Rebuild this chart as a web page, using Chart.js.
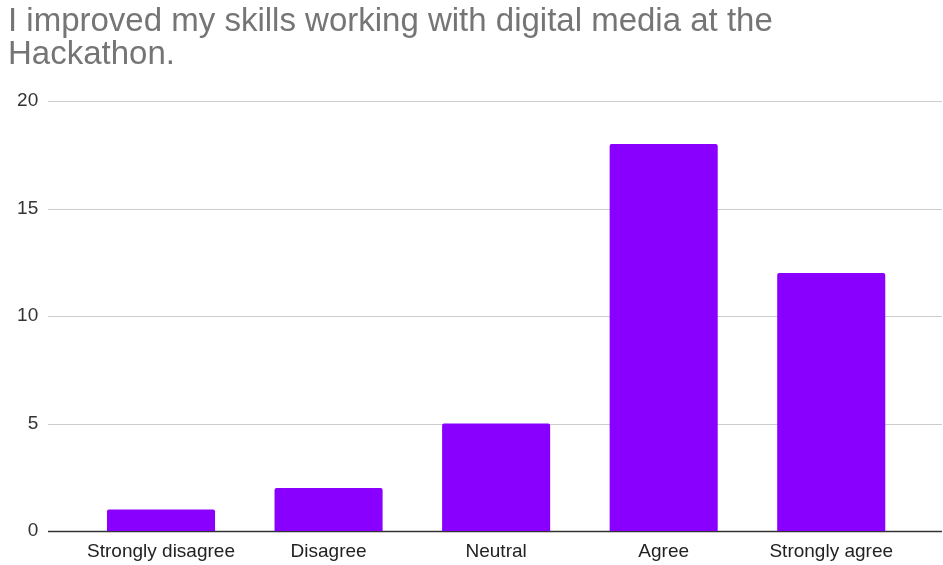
<!DOCTYPE html>
<html>
<head>
<meta charset="utf-8">
<script src="https://cdn.jsdelivr.net/npm/chart.js@4.4.1/dist/chart.umd.min.js"></script>
<style>
    html, body { margin: 0; padding: 0; background: #fff; }
    #wrap { width: 943px; height: 565px; }
</style>
</head>
<body>
<div id="wrap"><canvas id="barChart"></canvas></div>
<script>
// Survey answers
const answers = ['Strongly disagree', 'Disagree', 'Neutral', 'Agree', 'Strongly agree'];
const counts = [1, 2, 5, 18, 12];
const yTicks = [0, 5, 10, 15, 20];
const titleLines = ['I improved my skills working with digital media at the', 'Hackathon.'];

// horizontal grid lines run wider than the bar area, so draw them by hand
const gridLines = {
    id: 'gridLines',
    beforeDatasetsDraw(chart) {
        const c = chart.ctx;
        const y = chart.scales.y;
        c.save();
        yTicks.forEach(v => {
            const py = Math.round(y.getPixelForValue(v)) + 0.5;
            c.beginPath();
            c.strokeStyle = v === 0 ? '#333333' : '#cccccc';
            c.lineWidth = v === 0 ? 1.5 : 1;
            c.moveTo(48, py);
            c.lineTo(942, py);
            c.stroke();
        });
        c.restore();
    }
};

const ctx = document.getElementById('barChart').getContext('2d');
new Chart(ctx, {
    type: 'bar',
    data: {
        labels: answers,
        datasets: [{
            data: counts,
            backgroundColor: '#8a00ff',
            borderRadius: { topLeft: 2, topRight: 2 },
            borderSkipped: 'bottom',
            barPercentage: 0.645,
            categoryPercentage: 1
        }]
    },
    plugins: [gridLines],
    options: {
        responsive: true,
        maintainAspectRatio: false,
        animation: false,
        layout: { padding: { left: 8, right: 28, top: 0, bottom: 0 } },
        plugins: {
            legend: { display: false },
            tooltip: { enabled: false },
            title: {
                display: true,
                text: titleLines,
                align: 'start',
                color: '#757575',
                font: { family: 'Liberation Sans, Arial', size: 33, weight: 'normal', lineHeight: 1.0 },
                padding: { top: 5, bottom: 30 }
            }
        },
        scales: {
            x: {
                grid: { display: false, drawTicks: false },
                border: { display: false },
                ticks: {
                    color: '#222222',
                    padding: 9,
                    maxRotation: 0,
                    font: { family: 'Liberation Sans, Arial', size: 19 }
                },
                afterFit(scale) { scale.height = 34; }
            },
            y: {
                min: 0,
                max: 20,
                grid: { display: false, drawTicks: false },
                border: { display: false },
                ticks: {
                    stepSize: 5,
                    color: '#333333',
                    padding: 39,
                    font: { family: 'Liberation Sans, Arial', size: 19 }
                },
                afterFit(scale) {
                    // wide label gap, but don't let it push the plot area in
                    scale.width = 69.25;
                    scale.paddingTop = 0;
                    scale.paddingBottom = 0;
                }
            }
        }
    }
});
</script>
</body>
</html>
